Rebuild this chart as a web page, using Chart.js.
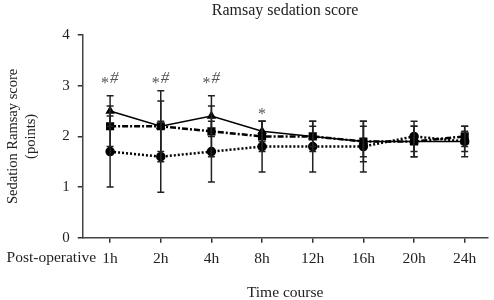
<!DOCTYPE html>
<html>
<head>
<meta charset="utf-8">
<script src="https://cdn.jsdelivr.net/npm/chart.js@4"></script>
<style>
  html, body { margin: 0; padding: 0; background: #fff; }
  #wrap { width: 494px; height: 300px; position: relative; }
</style>
</head>
<body>
<div id="wrap"><canvas id="c"></canvas></div>
<script>
const titleText = 'Ramsay sedation score';
const categories = ['1h', '2h', '4h', '8h', '12h', '16h', '20h', '24h'];
const firstPrefix = 'Post-operative';
const yTicks = [0, 1, 2, 3, 4];

const meanSolid   = [2.5, 2.2, 2.4, 2.1, 2.0, 1.9, 1.9, 1.9];
const sdSolid     = [0.3, 0.7, 0.4, 0.2, 0.3, 0.4, 0.3, 0.3];
const meanDashDot = [2.2, 2.2, 2.1, 2.0, 2.0, 1.9, 1.9, 2.0];
const sdDashDot   = [0.4, 0.5, 0.5, 0.3, 0.2, 0.3, 0.3, 0.2];
const meanDotted  = [1.7, 1.6, 1.7, 1.8, 1.8, 1.8, 2.0, 1.9];
const sdDotted    = [0.7, 0.7, 0.6, 0.5, 0.5, 0.5, 0.3, 0.2];

const marks = ['*#', '*#', '*#', '*', '', '', '', ''];
const markLevel = [3.05, 3.05, 3.05, 2.45, 0, 0, 0, 0];

const serif = '"Liberation Serif", "DejaVu Serif", serif';
const toPts = arr => arr.map((v, i) => ({ x: i, y: v }));

const errorBars = {
  id: 'errorBars',
  afterDatasetsDraw(chart) {
    const { ctx, scales: { x, y } } = chart;
    ctx.save();
    ctx.strokeStyle = '#222';
    ctx.lineWidth = 1.5;
    chart.data.datasets.forEach(ds => {
      ds.sd.forEach((s, i) => {
        const m = ds.data[i].y;
        const px = x.getPixelForValue(i);
        const top = y.getPixelForValue(m + s);
        const bot = y.getPixelForValue(m - s);
        ctx.beginPath();
        ctx.moveTo(px, top); ctx.lineTo(px, bot);
        ctx.moveTo(px - 3.5, top); ctx.lineTo(px + 3.5, top);
        ctx.moveTo(px - 3.5, bot); ctx.lineTo(px + 3.5, bot);
        ctx.stroke();
      });
    });
    ctx.restore();
  }
};

const annotations = {
  id: 'annotations',
  afterDraw(chart) {
    const { ctx, chartArea, scales: { x, y } } = chart;
    ctx.save();
    // title centred over the plot area
    ctx.fillStyle = '#222';
    ctx.font = '16px ' + serif;
    ctx.textAlign = 'center';
    ctx.textBaseline = 'middle';
    ctx.fillText(titleText, (chartArea.left + chartArea.right) / 2, 11);

    ctx.fillStyle = '#555';
    ctx.textBaseline = 'alphabetic';
    marks.forEach((m, i) => {
      if (!m) return;
      const px = x.getPixelForValue(i);
      const py = y.getPixelForValue(markLevel[i]);
      if (m === '*#') {
        ctx.font = '16px ' + serif;
        ctx.textAlign = 'right';
        ctx.fillText('*', px - 1, py + 5);
        ctx.font = 'italic 17px ' + serif;
        ctx.textAlign = 'left';
        ctx.fillText('#', px, py);
      } else {
        ctx.font = '16px ' + serif;
        ctx.textAlign = 'center';
        ctx.fillText('*', px, py + 5);
      }
    });
    // prefix for the first category label
    ctx.fillStyle = '#222';
    ctx.font = '15.5px ' + serif;
    ctx.textAlign = 'right';
    ctx.textBaseline = 'middle';
    const px0 = x.getPixelForValue(0);
    ctx.fillText(firstPrefix, px0 - 14, y.bottom + 20);
    ctx.restore();
  }
};

new Chart(document.getElementById('c'), {
  type: 'line',
  data: {
    datasets: [
      { label: 'Group A', data: toPts(meanSolid), sd: sdSolid,
        borderColor: '#000', backgroundColor: '#000', borderWidth: 1.5,
        pointStyle: 'triangle', pointRadius: 4, borderDash: [] },
      { label: 'Group B', data: toPts(meanDashDot), sd: sdDashDot,
        borderColor: '#000', backgroundColor: '#000', borderWidth: 2.5,
        pointStyle: 'rect', pointRadius: 4, borderDash: [6, 2, 2, 2] },
      { label: 'Group C', data: toPts(meanDotted), sd: sdDotted,
        borderColor: '#000', backgroundColor: '#000', borderWidth: 2.5,
        pointStyle: 'circle', pointRadius: 3.5, borderDash: [2, 2] }
    ]
  },
  options: {
    responsive: true,
    maintainAspectRatio: false,
    animation: false,
    layout: { padding: { top: 35, right: -10, left: 4, bottom: -2 } },
    plugins: {
      legend: { display: false },
      tooltip: { enabled: false },
      title: { display: false }
    },
    scales: {
      x: {
        type: 'linear', min: -0.54, max: 7.45,
        afterBuildTicks: s => { s.ticks = categories.map((c, i) => ({ value: i })); },
        ticks: {
          callback: (v) => categories[v], color: '#222', maxRotation: 0,
          autoSkip: false, padding: 7,
          font: { family: serif, size: 15.5 }
        },
        grid: { display: true, drawOnChartArea: false, drawTicks: true, tickLength: 5, color: '#333', lineWidth: 1.5 },
        border: { display: true, color: '#444', width: 1.5 },
        title: { display: true, text: 'Time course', color: '#222',
          font: { family: serif, size: 15.5 }, padding: { top: 8, bottom: 0 } }
      },
      y: {
        min: 0, max: 4,
        afterBuildTicks: s => { s.ticks = yTicks.map(v => ({ value: v })); },
        ticks: { color: '#222', padding: 8, font: { family: serif, size: 15 } },
        grid: { display: true, drawOnChartArea: false, drawTicks: true, tickLength: 5, color: '#333', lineWidth: 1.5 },
        border: { display: true, color: '#444', width: 1.5 },
        title: { display: true, text: ['Sedation Ramsay score', '(points)'], color: '#222',
          font: { family: serif, size: 14.5, lineHeight: 1.25 }, padding: { top: 0, bottom: 14 } }
      }
    }
  },
  plugins: [errorBars, annotations]
});
</script>
</body>
</html>
